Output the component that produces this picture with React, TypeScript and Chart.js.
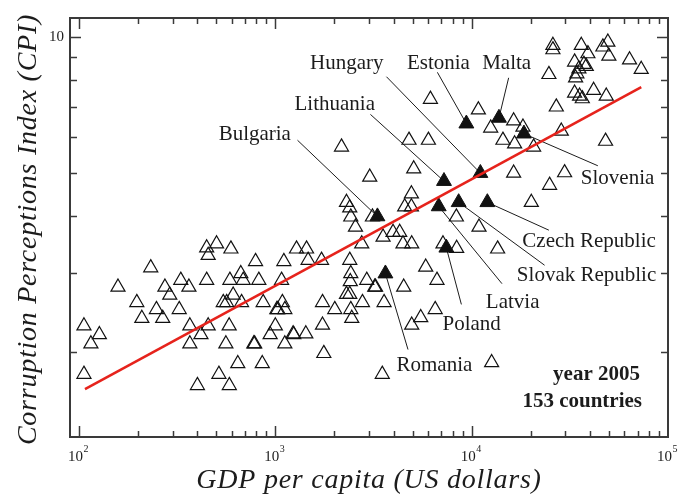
import React, { useEffect, useRef } from "react";
import { Chart, registerables } from "chart.js";

Chart.register(...registerables);

// ---------- data ----------
const openGdp = [
  25930, 25930, 36170, 46590, 49400, 39080, 49980, 63700, 73040, 24740,
  33440, 37290, 38350, 35170, 34350, 33840, 33440, 35450, 36600, 41790,
  48480, 26980, 18250, 28610, 48080, 20680, 29740, 24940, 20130, 6165,
  10820, 12500, 16360, 4796, 6022, 2173, 14430, 16550, 5068, 3026,
  16360, 4933, 2304, 2394, 2423, 2560, 4560, 4933, 3123, 8357,
  10900, 3978, 4300, 3538, 2755, 4470, 4951, 7144, 8387, 13560,
  1282, 1442, 1469, 1719, 2394, 5834, 2423, 2409, 2922, 3209,
  3240, 4507, 6659, 2304, 2394, 1739, 2008, 2423, 2778, 3580,
  2451, 5503, 6520, 4951, 1739, 1232, 1430, 1766, 3505, 12640,
  447, 502, 455, 594, 232, 793, 1105, 158, 274, 290,
  330, 363, 447, 587, 667, 686, 824, 1076, 197, 248,
  267, 209, 324, 610, 543, 565, 673, 867, 1086, 1018,
  1030, 1118, 106, 127, 115, 367, 455, 582, 418, 367,
  560, 777, 785, 1000, 941, 1242, 1118, 644, 858, 516,
  106, 401, 583,
];
const openCpi = [
  9.57, 9.36, 9.57, 9.49, 9.73, 9.17, 9.06, 8.89, 8.47, 8.25,
  8.79, 8.69, 8.6, 8.49, 8.28, 8.11, 7.5, 7.39, 7.29, 7.61,
  7.39, 6.99, 6.31, 6.18, 5.87, 5.7, 5.0, 4.69, 4.3, 7.27,
  6.89, 6.28, 6.51, 5.9, 5.9, 5.7, 5.9, 5.79, 5.1, 4.89,
  4.99, 4.49, 4.3, 4.18, 3.99, 3.79, 4.2, 4.2, 3.99, 3.99,
  3.79, 3.69, 3.69, 3.6, 3.48, 3.48, 3.48, 3.48, 3.4, 3.39,
  3.39, 3.39, 3.2, 3.2, 3.2, 3.09, 2.99, 2.87, 2.89, 2.79,
  2.79, 2.79, 2.89, 2.69, 2.69, 2.58, 2.49, 2.49, 2.58, 2.58,
  2.38, 2.39, 2.49, 2.3, 2.3, 2.2, 2.2, 1.99, 1.79, 1.9,
  3.41, 3.48, 3.28, 3.39, 3.08, 3.18, 3.18, 2.79, 2.79, 2.68,
  2.89, 2.79, 2.89, 2.89, 2.99, 2.89, 2.89, 2.89, 2.58, 2.49,
  2.38, 2.38, 2.49, 2.68, 2.58, 2.58, 2.58, 2.58, 2.58, 2.49,
  2.49, 2.49, 2.29, 2.19, 2.09, 2.29, 2.29, 2.29, 2.19, 2.09,
  2.09, 2.09, 2.09, 2.29, 2.19, 2.19, 2.09, 1.89, 1.89, 1.79,
  1.79, 1.69, 1.69,
];

const highlightCountries = [
  "Hungary", "Estonia", "Malta", "Lithuania", "Bulgaria", "Slovenia",
  "Czech Republic", "Slovak Republic", "Latvia", "Poland", "Romania",
];
const highlightGdp = [11075, 9398, 13770, 7228, 3312, 18460, 12020, 8586, 6795, 7432, 3637];
const highlightCpi = [4.99, 6.42, 6.61, 4.79, 4.0, 6.1, 4.3, 4.3, 4.21, 3.41, 2.99];

// label anchors (centre of text) and leader-line starts, in data units
const labelGdp = [2312, 6770, 15070, 2008, 786, 55340, 39630, 38480, 16170, 10000, 6458];
const labelCpi = [8.79, 8.79, 8.79, 7.1, 6.12, 4.89, 3.54, 2.97, 2.6, 2.32, 1.88];
const leaderGdp = [3681, 6690, 15430, 3051, 1297, 43920, 24740, 23520, 14270, 8864, 4740];
const leaderCpi = [8.155, 8.34, 8.11, 6.73, 5.9, 5.18, 3.73, 3.12, 2.84, 2.555, 2.03];

const fitGdp = [107.3, 73100];
const fitCpi = [1.66, 7.73];

const xTickValues = [100, 1000, 10000, 100000];
const xTickExponents = ["2", "3", "4", "5"];
const yTickValues = [10];
const yTickLabels = ["10"];

const xTitle = "GDP per capita (US dollars)";
const yTitle = "Corruption Perceptions Index (CPI)";
const noteLines = ["year 2005", "153 countries"];

// ---------- styling ----------
const SERIF = '"Liberation Serif", "Times New Roman", "DejaVu Serif", serif';
const INK = "#1c1c1c";
const FRAME = "#3a3a3a";

export default function App() {
  const ref = useRef<HTMLCanvasElement | null>(null);

  useEffect(() => {
    const canvas = ref.current;
    if (!canvas) return;

    const overlay = {
      id: "overlay",
      beforeDatasetsDraw(chart: any) {
        const { ctx } = chart;
        const xs = chart.scales.x;
        const ys = chart.scales.y;
        ctx.save();
        ctx.strokeStyle = INK;
        ctx.lineWidth = 1;
        for (let i = 0; i < highlightCountries.length; i++) {
          ctx.beginPath();
          ctx.moveTo(xs.getPixelForValue(leaderGdp[i]), ys.getPixelForValue(leaderCpi[i]));
          ctx.lineTo(xs.getPixelForValue(highlightGdp[i]), ys.getPixelForValue(highlightCpi[i]));
          ctx.stroke();
        }
        ctx.restore();
      },
      afterDraw(chart: any) {
        const { ctx, chartArea } = chart;
        const { left, right, top, bottom } = chartArea;
        const xs = chart.scales.x;
        const ys = chart.scales.y;
        ctx.save();

        // ticks (inward, all four sides)
        ctx.strokeStyle = FRAME;
        ctx.lineWidth = 1.5;
        const seg = (x1: number, y1: number, x2: number, y2: number) => {
          ctx.beginPath();
          ctx.moveTo(x1, y1);
          ctx.lineTo(x2, y2);
          ctx.stroke();
        };
        for (let e = 1; e <= 5; e++) {
          for (let m = 1; m <= 9; m++) {
            const v = m * Math.pow(10, e);
            if (v <= xs.min || v >= xs.max) continue;
            const px = Math.round(xs.getPixelForValue(v)) + 0.5;
            const len = m === 1 ? 11 : 6;
            seg(px, bottom, px, bottom - len);
            seg(px, top, px, top + len);
          }
        }
        for (let e = 0; e <= 1; e++) {
          for (let m = 1; m <= 9; m++) {
            const v = m * Math.pow(10, e);
            if (v <= ys.min || v >= ys.max) continue;
            const py = Math.round(ys.getPixelForValue(v)) + 0.5;
            const len = m === 1 ? 11 : 7;
            seg(left, py, left + len, py);
            seg(right, py, right - len, py);
          }
        }

        // frame
        ctx.lineWidth = 2;
        ctx.strokeRect(left, top, right - left, bottom - top);

        // x tick labels 10^n
        ctx.fillStyle = INK;
        ctx.textBaseline = "alphabetic";
        for (let i = 0; i < xTickValues.length; i++) {
          const px = xs.getPixelForValue(xTickValues[i]);
          ctx.font = `15px ${SERIF}`;
          const wb = ctx.measureText("10").width;
          ctx.font = `10px ${SERIF}`;
          const we = ctx.measureText(xTickExponents[i]).width;
          const start = px - (wb + we) / 2 - 1;
          ctx.font = `15px ${SERIF}`;
          ctx.textAlign = "left";
          ctx.fillText("10", start, bottom + 24);
          ctx.font = `10px ${SERIF}`;
          ctx.fillText(xTickExponents[i], start + wb + 0.5, bottom + 15);
        }
        // y tick labels
        ctx.font = `15px ${SERIF}`;
        ctx.textAlign = "right";
        ctx.textBaseline = "middle";
        for (let i = 0; i < yTickValues.length; i++) {
          ctx.fillText(yTickLabels[i], left - 6, ys.getPixelForValue(yTickValues[i]));
        }

        // axis titles
        ctx.font = `italic 28px ${SERIF}`;
        (ctx as any).letterSpacing = "0.75px";
        ctx.textAlign = "center";
        ctx.textBaseline = "alphabetic";
        ctx.fillText(xTitle, (left + right) / 2, bottom + 51);
        ctx.save();
        ctx.translate(left - 34, (top + bottom) / 2 + 2);
        ctx.rotate(-Math.PI / 2);
        ctx.fillText(yTitle, 0, 0);
        ctx.restore();
        (ctx as any).letterSpacing = "0px";

        // country labels
        ctx.font = `21px ${SERIF}`;
        ctx.textAlign = "center";
        ctx.textBaseline = "middle";
        for (let i = 0; i < highlightCountries.length; i++) {
          ctx.fillText(
            highlightCountries[i],
            xs.getPixelForValue(labelGdp[i]),
            ys.getPixelForValue(labelCpi[i]) + 1
          );
        }

        // note
        ctx.font = `bold 21px ${SERIF}`;
        ctx.textAlign = "right";
        ctx.fillText(noteLines[0], right - 28, bottom - 62);
        ctx.fillText(noteLines[1], right - 26, bottom - 35);

        ctx.restore();
      },
    };

    const chart = new Chart(canvas, {
      type: "scatter",
      data: {
        datasets: [
          {
            data: fitGdp.map((g, i) => ({ x: g, y: fitCpi[i] })),
            showLine: true,
            borderColor: "#e6231c",
            borderWidth: 2.6,
            pointRadius: 0,
            fill: false,
          } as any,
          {
            data: highlightGdp.map((g, i) => ({ x: g, y: highlightCpi[i] })),
            pointStyle: "triangle",
            pointRadius: 8.6,
            backgroundColor: "#111",
            borderColor: "#111",
            borderWidth: 1,
          },
          {
            data: openGdp.map((g, i) => ({ x: g, y: openCpi[i] })),
            pointStyle: "triangle",
            pointRadius: 8.1,
            backgroundColor: "rgba(0,0,0,0)",
            borderColor: "#111",
            borderWidth: 1.2,
          },
        ],
      },
      options: {
        responsive: false,
        animation: false,
        events: [],
        layout: { padding: { left: 70, top: 18, right: 26, bottom: 58 } },
        plugins: { legend: { display: false }, tooltip: { enabled: false } },
        scales: {
          x: { type: "logarithmic", min: 90, max: 100000, display: false },
          y: { type: "logarithmic", min: 1.3, max: 11, display: false },
        },
      },
      plugins: [overlay],
    });
    return () => chart.destroy();
  }, []);

  return (
    <div style={{ position: "absolute", left: 0, top: 0, width: 694, height: 495, background: "#fff" }}>
      <canvas ref={ref} width={694} height={495} />
    </div>
  );
}
